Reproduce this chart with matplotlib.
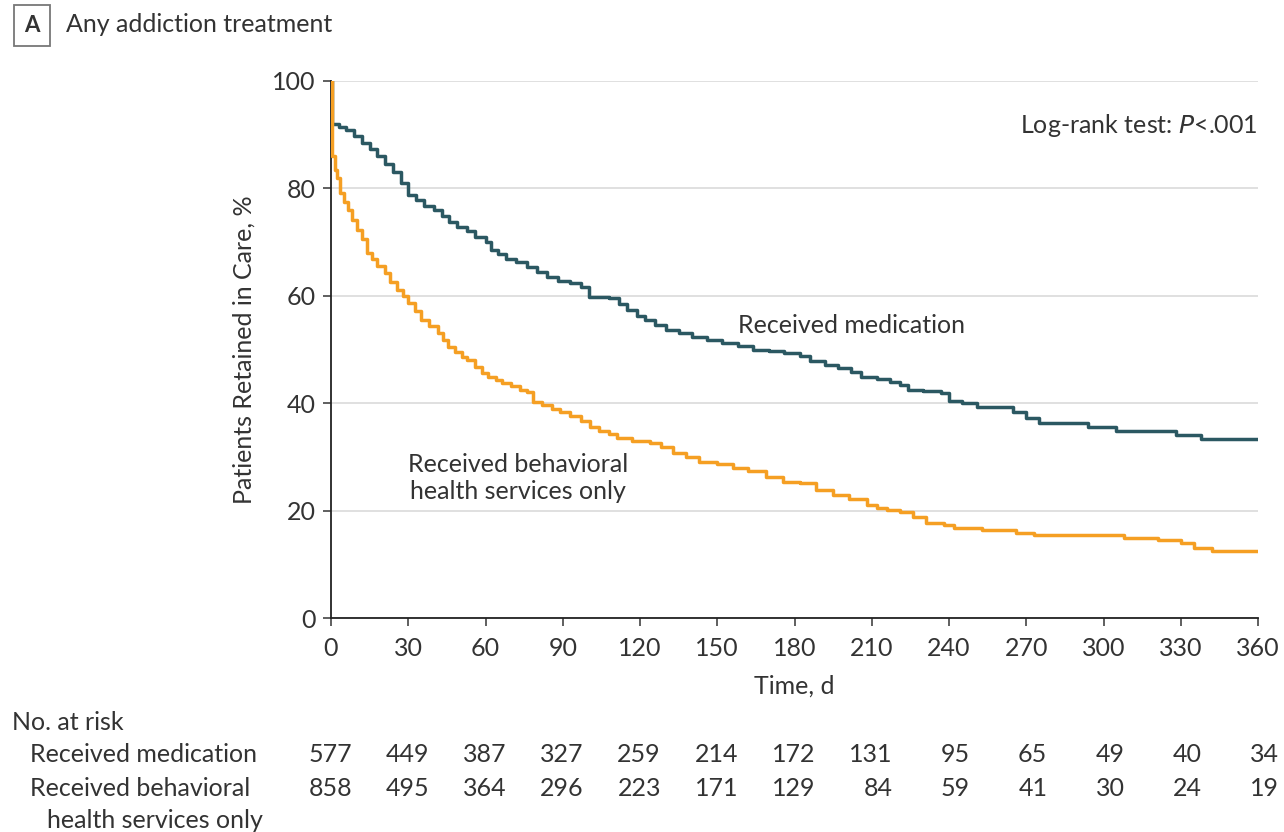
import matplotlib.pyplot as plt
import matplotlib.transforms as mtransforms

plt.rcParams['font.family'] = ['Lato', 'DejaVu Sans']

# Kaplan-Meier curves (day, % retained)
med_t = [0, 0.4, 3, 6, 9, 12, 15, 18, 21, 24, 27, 30, 33, 36, 40, 43, 46, 49, 53, 56,
         60, 62, 65, 68, 72, 76, 80, 84, 88, 93, 97, 100, 108, 112, 115, 119, 122, 126, 130, 135,
         140, 146, 152, 158, 164, 170, 176, 182, 186, 192, 197, 202, 206, 212, 217, 221, 224, 230, 237, 240,
         245, 251, 265, 270, 275, 294, 305, 328, 338, 360]
med_s = [100, 92, 91.5, 90.8, 89.8, 88.5, 87.3, 86, 84.5, 83, 81, 78.8, 77.8, 76.8, 76, 74.8, 73.8, 72.8, 72, 71,
         70, 68.5, 67.8, 66.8, 66.3, 65.4, 64.4, 63.5, 62.8, 62.3, 61.6, 59.8, 59.6, 58.5, 57.4, 56.3, 55.5, 54.5, 53.6, 53,
         52.4, 51.8, 51.2, 50.6, 50, 49.8, 49.4, 48.7, 47.8, 47.2, 46.5, 45.8, 44.9, 44.5, 43.9, 43.4, 42.5, 42.2, 41.9, 40.4,
         40, 39.3, 38.4, 37.2, 36.3, 35.6, 34.8, 34.1, 33.3, 33.3]

beh_t = [0, 0.3, 1.5, 2.5, 3.5, 5, 6.5, 8, 10, 12, 14, 16, 18, 21, 23, 25.5, 28, 30, 32.5, 35,
         38, 41.5, 43.5, 45.5, 48, 51, 53, 56, 58.5, 61, 64, 66.5, 70, 73.5, 76, 78.5, 82, 86, 89, 93,
         97, 100.5, 104, 108, 111, 117, 124, 128, 133, 138, 143, 150, 156, 162, 169, 175.5, 182, 188.5, 195, 201,
         208, 212, 216, 221, 226, 231, 238, 242, 253, 266, 273, 308, 321, 330, 335, 342, 360]
beh_s = [100, 86, 83.4, 82, 79.1, 77.5, 76, 74.1, 72.3, 70.5, 68, 66.8, 65.5, 64.2, 62.5, 61.1, 60, 58.7, 57.2, 55.5,
         54.3, 53.1, 51.8, 50.5, 49.5, 48.6, 48, 46.8, 45.6, 44.8, 44.3, 43.8, 43.2, 42.5, 42.1, 40.3, 39.6, 38.9, 38.4, 37.6,
         36.7, 35.6, 34.8, 34.2, 33.5, 33, 32.5, 31.8, 30.7, 30, 29.1, 28.7, 27.9, 27.3, 26.3, 25.4, 25.1, 23.8, 22.9, 22.1,
         21, 20.5, 20.1, 19.8, 18.9, 17.7, 17.3, 16.8, 16.4, 15.8, 15.5, 14.9, 14.5, 14, 13, 12.5, 12.5]

# number at risk table
risk_days = [0, 30, 60, 90, 120, 150, 180, 210, 240, 270, 300, 330, 360]
risk_med = [577, 449, 387, 327, 259, 214, 172, 131, 95, 65, 49, 40, 34]
risk_beh = [858, 495, 364, 296, 223, 171, 129, 84, 59, 41, 30, 24, 19]

teal = '#2b5862'
orange = '#f59f23'
txt = '#333333'
fs = 18

fig = plt.figure(figsize=(12.84, 8.32), dpi=100)
ax = fig.add_axes([331/1284, 1 - 618/832, 927/1284, 537/832])

ax.step(med_t, med_s, where='post', color=teal, lw=2.5, zorder=3)
ax.step(beh_t, beh_s, where='post', color=orange, lw=2.5, zorder=4)

ax.set_xlim(0, 360)
ax.set_ylim(0, 100)
ax.set_xticks(risk_days)
ax.set_yticks([0, 20, 40, 60, 80, 100])
ax.yaxis.grid(True, color='#dddddd', lw=1.3)
ax.set_axisbelow(True)
for s in ['top', 'right']:
    ax.spines[s].set_visible(False)
for s in ['left', 'bottom']:
    ax.spines[s].set_color('#222222')
    ax.spines[s].set_linewidth(1.3)
ax.tick_params(direction='out', length=6, width=1.2, color='#444444',
               labelsize=fs, labelcolor=txt, pad=5)
ax.tick_params(axis='x', pad=8)
ax.set_xlabel('Time, d', fontsize=fs, color=txt, labelpad=10)
ax.set_ylabel('Patients Retained in Care, %', fontsize=fs, color=txt, labelpad=12)

ax.text(202, 54.4, 'Received medication', ha='center', va='center', fontsize=fs, color=txt)
ax.text(72.5, 26, 'Received behavioral\nhealth services only', ha='center', va='center',
        fontsize=fs, color=txt, linespacing=1.2)
ax.text(360, 91.8, 'Log-rank test: $\\it{P}$<.001', ha='right', va='center', fontsize=fs, color=txt)

# panel title
fig.text(32/1284, 1 - 25/832, 'A', ha='center', va='center', fontsize=16, fontweight='bold',
         color=txt, bbox=dict(boxstyle='square,pad=0.45', fc='white', ec='#777777', lw=1.3))
fig.text(66/1284, 1 - 25/832, 'Any addiction treatment', ha='left', va='center', fontsize=fs, color=txt)

# at-risk table
fig.text(12/1284, 1 - 722/832, 'No. at risk', ha='left', va='center', fontsize=fs, color=txt)
fig.text(30/1284, 1 - 755/832, 'Received medication', ha='left', va='center', fontsize=fs, color=txt)
fig.text(30/1284, 1 - 788/832, 'Received behavioral', ha='left', va='center', fontsize=fs, color=txt)
fig.text(47/1284, 1 - 820/832, 'health services only', ha='left', va='center', fontsize=fs, color=txt)

trans = mtransforms.blended_transform_factory(ax.transData, fig.transFigure)
trans = mtransforms.offset_copy(trans, fig=fig, x=21, y=0, units='dots')
for d, m, b in zip(risk_days, risk_med, risk_beh):
    fig.text(d, 1 - 755/832, str(m), transform=trans, ha='right', va='center', fontsize=fs, color=txt)
    fig.text(d, 1 - 788/832, str(b), transform=trans, ha='right', va='center', fontsize=fs, color=txt)

fig.savefig('out.png', dpi=100, facecolor='white')
